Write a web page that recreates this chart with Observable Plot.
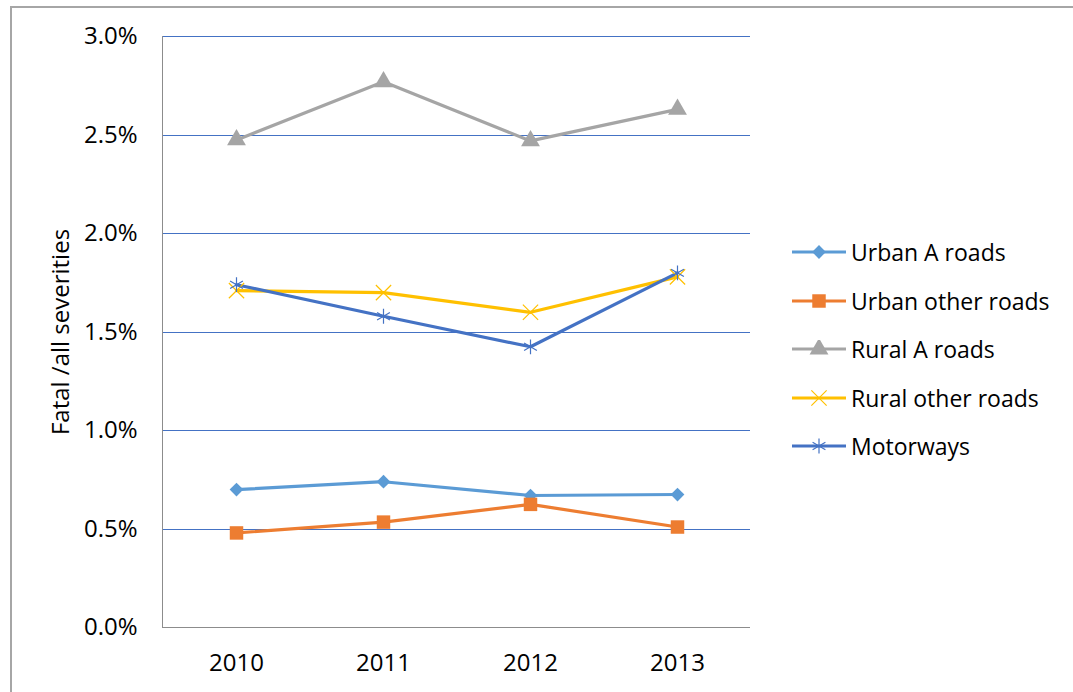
<!DOCTYPE html>
<html>
<head>
<meta charset="utf-8">
<script src="https://cdn.jsdelivr.net/npm/d3@7"></script>
<script src="https://cdn.jsdelivr.net/npm/@observablehq/plot@0.6"></script>
<style>
  html, body { margin: 0; padding: 0; background: #fff; overflow: hidden; }
  #wrap { position: relative; width: 1073px; height: 692px; font-family: "Open Sans", sans-serif; }
  #frame { position: absolute; left: 10px; top: 6px; width: 1100px; height: 720px; border-top: 2px solid #a6a6a6; border-left: 2px solid #a6a6a6; box-sizing: border-box; pointer-events: none; }
  #legend { position: absolute; left: 792px; top: 228px; }
  .item { display: flex; align-items: center; height: 48.5px; font-size: 23px; color: #000; }
  .item svg { margin-right: 5px; }
</style>
</head>
<body>
<div id="wrap"><div id="frame"></div><div id="chart"></div><div id="legend"></div></div>
<script>
const years = [2010, 2011, 2012, 2013];
const seriesNames = ["Urban A roads", "Urban other roads", "Rural A roads", "Rural other roads", "Motorways"];
const urbanA = [0.70, 0.74, 0.67, 0.675];
const urbanOther = [0.48, 0.535, 0.625, 0.51];
const ruralA = [2.475, 2.77, 2.47, 2.63];
const ruralOther = [1.71, 1.70, 1.60, 1.78];
const motorways = [1.74, 1.58, 1.425, 1.80];
const yTicks = [0, 0.5, 1.0, 1.5, 2.0, 2.5, 3.0];

const colors = ["#5B9BD5", "#ED7D31", "#A5A5A5", "#FFC000", "#4472C4"];
const symbols = ["diamond2", "square", "triangle", "times", "asterisk"];
const filled = [true, true, true, false, false];
const rs = [6.2, 7.6, 7, 7, 7];

const valuesList = [urbanA, urbanOther, ruralA, ruralOther, motorways];
const data = [];
seriesNames.forEach((s, i) => years.forEach((y, j) => data.push({series: s, year: String(y), value: valuesList[i][j]})));

const marks = [
  Plot.gridY(yTicks.filter(d => d > 0), {stroke: "#4472C4", strokeOpacity: 1, strokeWidth: 1, shapeRendering: "crispEdges"}),
  Plot.ruleY([0], {stroke: "#8c8c8c", strokeWidth: 1, shapeRendering: "crispEdges"}),
  Plot.axisY({ticks: yTicks, tickSize: 0, tickPadding: 25, fontSize: 24, tickFormat: d => d.toFixed(1) + "%", label: "Fatal /all severities", labelAnchor: "center", labelArrow: "none", labelOffset: 111}),
  Plot.axisX({tickSize: 0, tickPadding: 26, fontSize: 24, label: null})
];
seriesNames.forEach((s, i) => {
  const d = data.filter(r => r.series === s);
  marks.push(Plot.line(d, {x: "year", y: "value", stroke: colors[i], strokeWidth: 3.2, curve: "linear"}));
});
seriesNames.forEach((s, i) => {
  const d = data.filter(r => r.series === s);
  marks.push(Plot.dot(d, filled[i]
    ? {x: "year", y: "value", symbol: () => symbols[i], r: rs[i], fill: colors[i], stroke: "none"}
    : {x: "year", y: "value", symbol: () => symbols[i], r: rs[i], stroke: colors[i], strokeWidth: 1.2, fill: "none"}));
});

const chart = Plot.plot({
  width: 1073,
  height: 692,
  marginLeft: 162,
  marginRight: 323,
  marginTop: 36,
  marginBottom: 65,
  style: {fontFamily: "'Open Sans', sans-serif", fontSize: "24px", color: "#000", background: "transparent", overflow: "visible"},
  x: {type: "point", domain: years.map(String), padding: 0.5},
  y: {domain: [0, 3.0]},
  symbol: {type: "ordinal"},
  marks: marks
});
document.getElementById("chart").appendChild(chart);

// left vertical axis line
const leftLine = Plot.plot({width: 1073, height: 692, marginLeft: 162, marginRight: 323, marginTop: 36, marginBottom: 65,
  x: {domain: [0, 1], axis: null}, y: {domain: [0, 3.0], axis: null},
  style: {background: "transparent"},
  marks: [Plot.ruleX([0], {stroke: "#8c8c8c", strokeWidth: 1, shapeRendering: "crispEdges"})]});
leftLine.style.position = "absolute"; leftLine.style.left = "0px"; leftLine.style.top = "0px"; leftLine.style.pointerEvents = "none";
document.getElementById("wrap").appendChild(leftLine);

// legend
const legend = d3.select("#legend");
const symMap = {diamond2: d3.symbolDiamond2, square: d3.symbolSquare, triangle: d3.symbolTriangle, times: d3.symbolTimes, asterisk: d3.symbolAsterisk};
seriesNames.forEach((s, i) => {
  const item = legend.append("div").attr("class", "item");
  const sw = item.append("svg").attr("width", 54).attr("height", 18);
  sw.append("line").attr("x1", 0).attr("x2", 54).attr("y1", 9).attr("y2", 9).attr("stroke", colors[i]).attr("stroke-width", 3.2);
  const sz = Math.PI * rs[i] * rs[i];
  const p = sw.append("path").attr("transform", "translate(27,9)").attr("d", d3.symbol(symMap[symbols[i]], sz)());
  if (filled[i]) p.attr("fill", colors[i]); else p.attr("fill", "none").attr("stroke", colors[i]).attr("stroke-width", 1.2);
  item.append("span").text(s);
});
</script>
</body>
</html>
